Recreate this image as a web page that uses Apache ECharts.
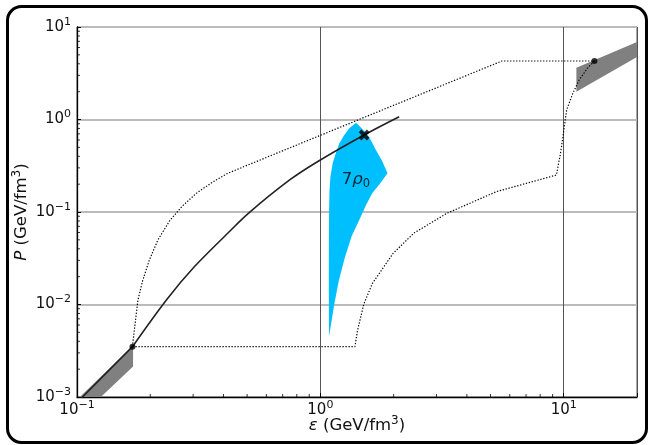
<!DOCTYPE html>
<html><head><meta charset="utf-8">
<script src="https://cdn.jsdelivr.net/npm/echarts@6/dist/echarts.min.js"></script>
<style>html,body{margin:0;padding:0;background:#fff}#c{width:650px;height:445px}</style>
</head><body><div id="c"></div>
<script>
// ---- data ----
const crustLine = [[0.1045,0.00098],[0.169,0.0035]];
const mainCurve = [[0.169,0.0035],[0.233,0.0112],[0.304,0.0257],[0.416,0.0589],[0.506,0.0968],[0.748,0.222],[0.984,0.356],[1.513,0.68],[2.108,1.07]];
const upperBound = [[0.169,0.0035],[0.173,0.006],[0.178,0.0112],[0.186,0.018],[0.198,0.03],[0.215,0.05],[0.24,0.08],[0.27,0.115],[0.31,0.16],[0.36,0.21],[0.416,0.262],[5.57,4.29],[13.37,4.29]];
const lowerBound = [[0.169,0.0035],[1.387,0.0035],[1.42,0.0052],[1.455,0.0068],[1.51,0.0102],[1.636,0.0169],[1.99,0.0357],[2.42,0.059],[3.31,0.0968],[5.29,0.166],[9.33,0.251],[9.55,0.35],[9.70,0.43],[9.97,0.71],[10.28,1.27],[10.9,1.92],[11.57,2.67],[12.5,3.57],[13.37,4.29]];
const lowBand = [[0.1019,0.00098],[0.170,0.0036],[0.170,0.00213],[0.1243,0.00098]];
const highBand = [[11.27,3.63],[20,6.9],[20,4.75],[11.27,2.0]];
const bluePoly = [[1.086,0.0045],[1.084,0.008],[1.083,0.02],[1.084,0.05],[1.086,0.1],[1.090,0.17],[1.1,0.24],[1.123,0.336],[1.16,0.44],[1.197,0.553],[1.25,0.67],[1.315,0.803],[1.401,0.923],
  [1.46,0.83],[1.53,0.73],[1.61,0.6],[1.691,0.468],[1.79,0.36],[1.888,0.262],
  [1.75,0.2],[1.636,0.16],[1.539,0.118],[1.445,0.082],[1.345,0.055],[1.26,0.032],[1.19,0.018],[1.14,0.01],[1.105,0.006],[1.086,0.0045]];
const dots = [[0.169,0.0035],[13.37,4.29]];
const crossPoint = [[1.513,0.68]];
const bandLabel = [[1.40,0.222]];
const xMinorTicks = [0.2,0.3,0.4,0.5,0.6,0.7,0.8,0.9,2,3,4,5,6,7,8,9];
const yMinorTicks = [];
[0.001,0.01,0.1,1].forEach(d=>{for(let k=2;k<=9;k++) yMinorTicks.push(+(d*k).toPrecision(3));});
const xRange = [0.1, 20];
const yRange = [0.001, 10];

const FONT = 'DejaVu Sans';
function powLabel(v){
  const e = Math.log10(v), r = Math.round(e);
  if (Math.abs(e - r) > 1e-6) return '';
  return '{b|10}{s|' + (r < 0 ? '\u2212' + (-r) : r) + '}';
}
const tickRich = {
  b:{fontSize:15,fontFamily:FONT,color:'#111'},
  s:{fontSize:11,fontFamily:FONT,color:'#111',padding:[0,0,10,0]}
};
const nameRich = ()=>({
  i:{fontSize:16.5,fontFamily:FONT,fontStyle:'italic',color:'#111'},
  t:{fontSize:16.5,fontFamily:FONT,color:'#111'},
  s:{fontSize:12,fontFamily:FONT,color:'#111',padding:[0,0,10,0]}
});
function polySeries(pts, color, z){
  return {type:'custom', coordinateSystem:'cartesian2d', clip:true, z:z, silent:true,
    data:[[1,1]],
    renderItem:function(params, api){
      return {type:'polygon', shape:{points: pts.map(p=>api.coord(p))}, style:{fill:color}};
    }};
}
function tickSeries(vals, isX){
  return {type:'scatter', clip:false, z:20, silent:true,
    data: vals.map(v => isX ? [v, yRange[0]] : [xRange[0], v]),
    symbol:'rect', symbolSize: isX ? [1,3] : [3,1], symbolOffset: isX ? [0,-1.5] : [1.5,0],
    itemStyle:{color:'#000'}};
}
const chart = echarts.init(document.getElementById('c'));
chart.setOption({
  animation:false,
  backgroundColor:'#fff',
  grid:{left:77, right:13, top:27, bottom:48, outerBoundsMode:'none', containLabel:false, show:true, borderColor:'#555', borderWidth:1, backgroundColor:'#fff'},
  graphic:[{type:'rect', shape:{x:7.5,y:6.5,width:639,height:436,r:14}, style:{fill:'none',stroke:'#000',lineWidth:3}, z:100}],
  xAxis:{type:'log', logBase:10, min:xRange[0], max:xRange[1],
    name:'{i|\u03b5}{t| (GeV/fm}{s|3}{t|)}', nameLocation:'middle', nameGap:18, nameMoveOverlap:false,
    nameTextStyle:{fontSize:16.5,fontFamily:FONT,color:'#111',verticalAlign:'top', rich:nameRich()},
    axisLine:{show:true,lineStyle:{color:'#000',width:1.3}},
    axisTick:{show:true,inside:true,length:4,lineStyle:{color:'#000'}},
    minorTick:{show:false},
    axisLabel:{formatter:powLabel, fontSize:15, fontFamily:FONT, color:'#111', rich:tickRich, margin:3, showMinLabel:true, showMaxLabel:true},
    splitLine:{show:true,lineStyle:{color:'#555',width:1}}
  },
  yAxis:{type:'log', logBase:10, min:yRange[0], max:yRange[1],
    name:'{i|P}{t| (GeV/fm}{s|3}{t|)}', nameLocation:'middle', nameGap:44, nameMoveOverlap:false,
    nameTextStyle:{fontSize:16.5,fontFamily:FONT,color:'#111', rich:nameRich()},
    axisLine:{show:true,lineStyle:{color:'#000',width:1.3}},
    axisTick:{show:true,inside:true,length:4,lineStyle:{color:'#000'}},
    minorTick:{show:false},
    axisLabel:{formatter:powLabel, fontSize:15, fontFamily:FONT, color:'#111', rich:tickRich, margin:6},
    splitLine:{show:true,lineStyle:{color:'#bbb',width:2}}
  },
  series:[
    polySeries(lowBand,'#808080',2),
    polySeries(highBand,'#808080',2),
    polySeries(bluePoly,'#00BFFF',2),
    {type:'line', data:upperBound, symbol:'none', z:3, lineStyle:{color:'#000',width:1.2,type:[1.3,1.7]}},
    {type:'line', data:lowerBound, symbol:'none', z:3, lineStyle:{color:'#000',width:1.2,type:[1.3,1.7]}},
    {type:'line', data:crustLine, symbol:'none', z:4, clip:true, lineStyle:{color:'#222',width:1.6}},
    {type:'line', data:mainCurve, symbol:'none', smooth:0.3, z:4, lineStyle:{color:'#222',width:1.6}},
    {type:'scatter', data:dots, symbol:'circle', symbolSize:6, z:6, itemStyle:{color:'#000'}},
    {type:'scatter', data:crossPoint, symbol:'path://M2.5,0 L5,2.5 L7.5,0 L10,2.5 L7.5,5 L10,7.5 L7.5,10 L5,7.5 L2.5,10 L0,7.5 L2.5,5 L0,2.5 Z', symbolSize:11, z:6, itemStyle:{color:'#000'}},
    {type:'scatter', data:bandLabel, symbolSize:0, z:7, silent:true,
      label:{show:true, position:'inside', formatter:'{a|7}{r|\u03c1}{o|0}', fontSize:16.5, fontFamily:FONT,
        rich:{a:{fontSize:16.5,fontFamily:FONT,color:'#000'}, r:{fontSize:16.5,fontFamily:FONT,fontStyle:'italic',color:'#000'}, o:{fontSize:11.5,fontFamily:FONT,color:'#000',padding:[8,0,0,0]}}}},
    tickSeries(xMinorTicks,true),
    tickSeries(yMinorTicks,false)
  ]
});
</script></body></html>
